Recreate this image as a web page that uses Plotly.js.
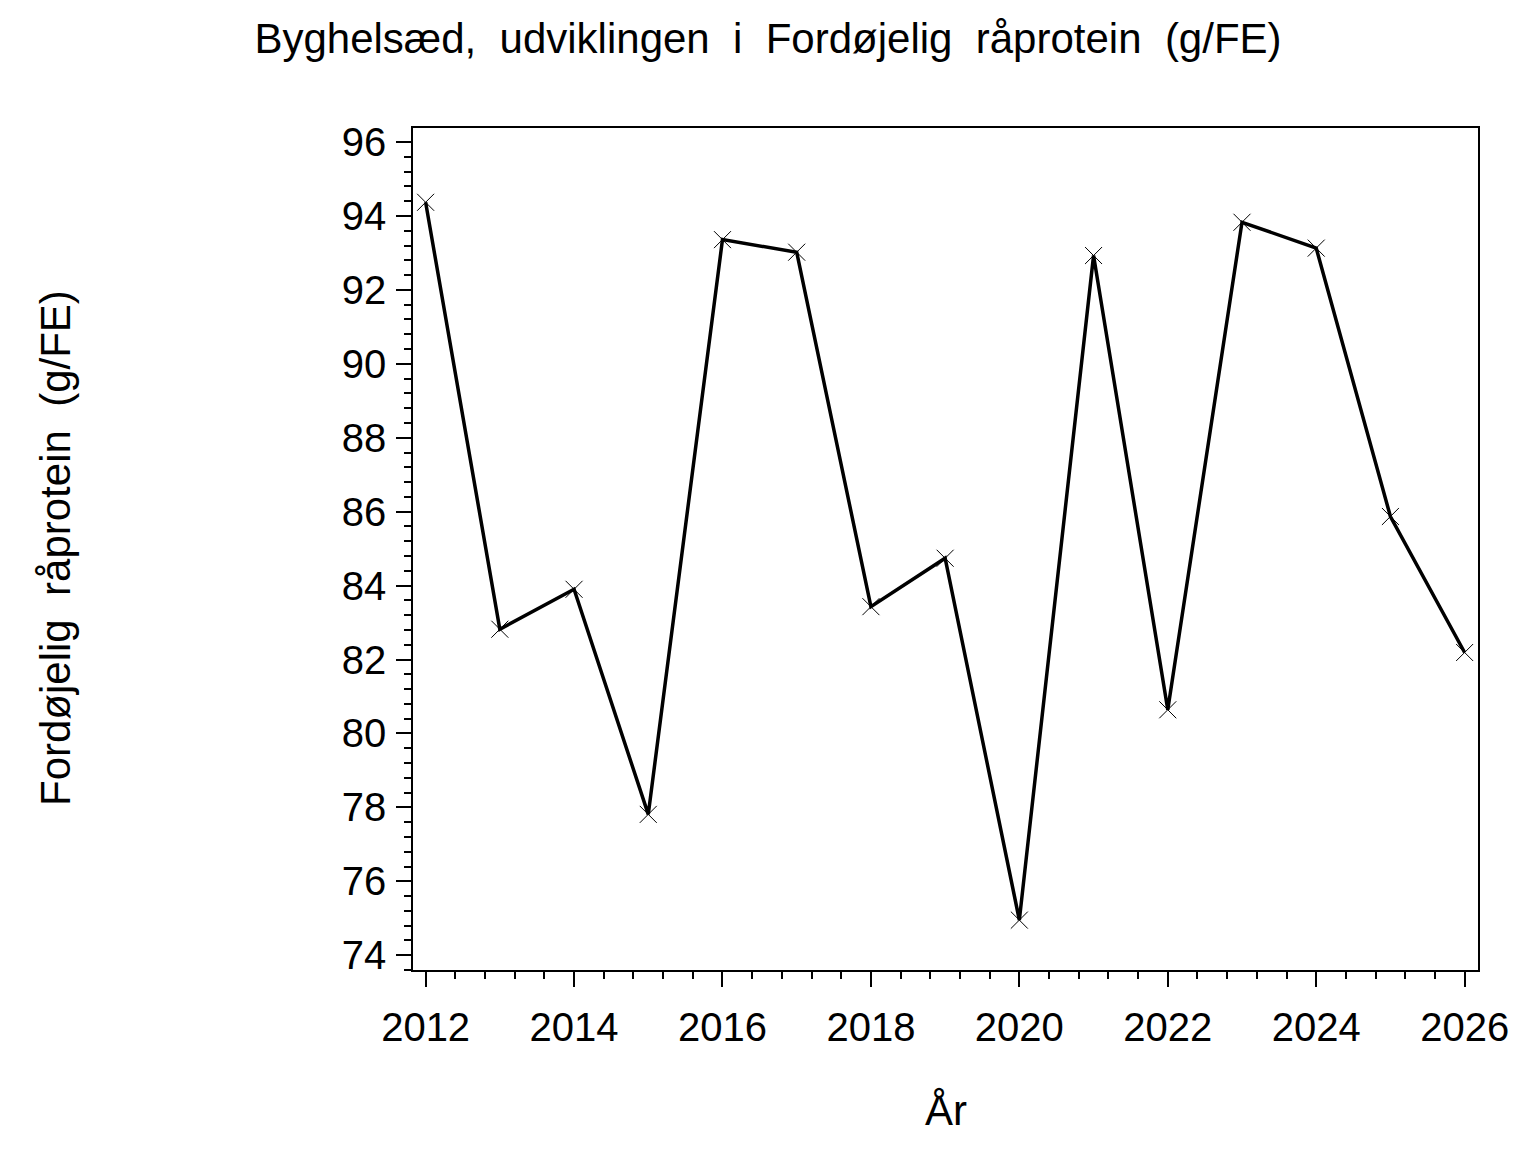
<!DOCTYPE html>
<html>
<head>
<meta charset="utf-8">
<script src="https://cdn.plot.ly/plotly-3.0.1.min.js"></script>
<style>
  html, body { margin: 0; padding: 0; background: #fff; }
  #chart { width: 1536px; height: 1152px; }
</style>
</head>
<body>
<div id="chart"></div>
<script>
// Byghelsæd: digestible crude protein per year.
const years = [2012, 2013, 2014, 2015, 2016, 2017, 2018, 2019, 2020, 2021, 2022, 2023, 2024, 2025, 2026];
const protein = [94.37, 82.82, 83.90, 77.81, 93.36, 93.02, 83.43, 84.74, 74.95, 92.93, 80.64, 93.83, 93.13, 85.87, 82.19];

const SP = "\u00a0\u00a0"; // the original uses wide word gaps
const titleText = ["Byghelsæd,", "udviklingen", "i", "Fordøjelig", "råprotein", "(g/FE)"].join(SP);
const yTitleText = ["Fordøjelig", "råprotein", "(g/FE)"].join(SP);
const xTitleText = "År";

const FONT = "'Liberation Sans', Arial, sans-serif";

const trace = {
  x: years,
  y: protein,
  type: "scatter",
  mode: "lines+markers",
  line: { color: "#000", width: 3.5 },
  marker: { symbol: "x-thin", size: 17, color: "#000", line: { color: "#000", width: 1 } },
  hoverinfo: "x+y",
};

const axisCommon = {
  showgrid: false,
  zeroline: false,
  showline: true,
  linecolor: "#000",
  linewidth: 1.5,
  mirror: true,
  ticks: "outside",
  tickcolor: "#000",
  tickwidth: 1.5,
  ticklen: 15,
  tickfont: { family: FONT, size: 40, color: "#000" },
};

const layout = {
  width: 1536,
  height: 1152,
  paper_bgcolor: "#fff",
  plot_bgcolor: "#fff",
  margin: { l: 413, r: 58, t: 128, b: 182 },
  showlegend: false,
  font: { family: FONT, color: "#000" },
  title: {
    text: titleText,
    font: { family: FONT, size: 42, color: "#000" },
    x: 0.5, xref: "container", xanchor: "center",
    y: 1 - 38 / 1152, yref: "container", yanchor: "middle",
  },
  xaxis: Object.assign({}, axisCommon, {
    range: [2011.83, 2026.18],
    tickmode: "linear", tick0: 2012, dtick: 2,
    ticklabelstandoff: 6,
    minor: { dtick: 0.4, tick0: 2012, ticks: "outside", ticklen: 7, tickwidth: 1.5, tickcolor: "#000", showgrid: false },
  }),
  yaxis: Object.assign({}, axisCommon, {
    range: [73.6, 96.38],
    tickmode: "linear", tick0: 74, dtick: 2,
    ticklabelstandoff: 2,
    minor: { dtick: 0.4, tick0: 74, ticks: "outside", ticklen: 7, tickwidth: 1.5, tickcolor: "#000", showgrid: false },
  }),
  annotations: [
    {
      text: xTitleText, showarrow: false,
      xref: "paper", x: 0.5, xanchor: "center",
      yref: "paper", y: -(1110 - 970) / 842, yanchor: "middle",
      font: { family: FONT, size: 42, color: "#000" },
    },
    {
      text: yTitleText, showarrow: false, textangle: -90,
      xref: "paper", x: -(413 - 55) / 1065, xanchor: "center",
      yref: "paper", y: (970 - 548) / 842, yanchor: "middle",
      font: { family: FONT, size: 42, color: "#000" },
    },
  ],
};

Plotly.newPlot("chart", [trace], layout, { displayModeBar: false, responsive: false });
</script>
</body>
</html>
